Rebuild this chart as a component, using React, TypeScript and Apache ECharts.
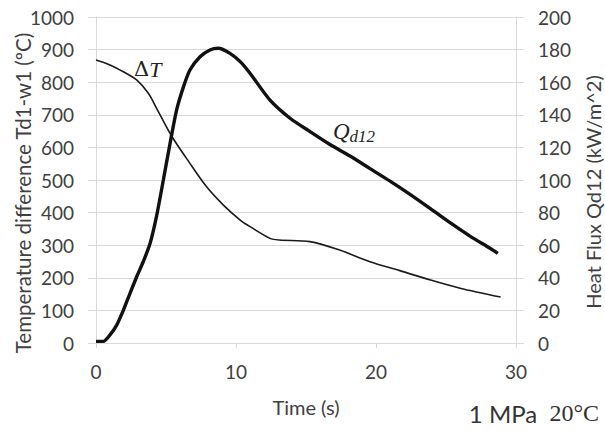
import React, { useEffect, useRef } from "react";
import * as echarts from "echarts";

const dtTime = [0, 1, 1.95, 2.9, 3.74, 4.33, 5.4, 6.71, 7.9, 9.1, 10.3, 11.0, 12.43, 13.1, 15.29, 17.4, 19.57, 21.7, 23.9, 26, 28.9];
const dtValue = [868, 853, 832, 807, 766, 720, 635, 551, 479, 423, 377, 357, 321, 316, 311, 285, 249, 222, 193, 168, 141];

const qTime = [0, 0.52, 1.0, 1.48, 1.95, 2.43, 2.9, 3.38, 3.86, 4.33, 4.81, 5.29, 5.76, 6.24, 6.71, 7.43, 8.14, 8.74, 9.57, 10.3, 11.0, 12.43, 13.86, 15.29, 16.71, 18.14, 19.57, 21, 22.43, 23.86, 25.29, 26.71, 28.14, 28.7];
const qValue = [1, 1, 5, 11, 20, 30.5, 40.5, 50, 61, 78, 100, 122.5, 143, 157, 167.5, 175.6, 179.8, 180.8, 177.7, 172.6, 165.5, 149, 137.9, 129.7, 121.8, 114.7, 107, 99.3, 91.2, 82.6, 73.8, 65.6, 58.1, 55];

const leftTicks = { min: 0, max: 1000, interval: 100 };
const rightTicks = { min: 0, max: 200, interval: 20 };
const xTicks = { min: 0, max: 30, interval: 10 };

const FONT = "Lato, 'Open Sans', sans-serif";
const TXT = "#404040";
const GRID = "#d9d9d9";

export default function App() {
  const ref = useRef<HTMLDivElement>(null);
  useEffect(() => {
    document.body.style.margin = "0";
    if (!ref.current) return;
    const chart = echarts.init(ref.current, null, { renderer: "svg" });
    chart.setOption({
      animation: false,
      backgroundColor: "#ffffff",
      grid: { left: 96, right: 89, top: 17, bottom: 88 },
      xAxis: {
        type: "value",
        ...xTicks,
        axisLine: { show: true, lineStyle: { color: GRID, width: 1 } },
        axisTick: { show: true, length: 5, lineStyle: { color: GRID } },
        splitLine: { show: false },
        axisLabel: { color: TXT, fontSize: 19, fontFamily: FONT, margin: 19, formatter: (v: number) => String(v) },
      },
      yAxis: [
        {
          type: "value",
          ...leftTicks,
          position: "left",
          axisLine: { show: true, lineStyle: { color: GRID, width: 1 } },
          axisTick: { show: true, length: 8, lineStyle: { color: GRID } },
          splitLine: { show: true, lineStyle: { color: GRID, width: 1 } },
          axisLabel: { color: TXT, fontSize: 19, fontFamily: FONT, margin: 22, formatter: (v: number) => String(v) },
        },
        {
          type: "value",
          ...rightTicks,
          position: "right",
          axisLine: { show: true, lineStyle: { color: GRID, width: 1 } },
          axisTick: { show: true, length: 8, lineStyle: { color: GRID } },
          splitLine: { show: false },
          axisLabel: { color: TXT, fontSize: 19, fontFamily: FONT, margin: 22, formatter: (v: number) => String(v) },
        },
      ],
      series: [
        {
          type: "line",
          yAxisIndex: 0,
          data: dtTime.map((t, i) => [t, dtValue[i]]),
          showSymbol: false,
          smooth: 0.3,
          lineStyle: { color: "#1a1a1a", width: 1.6 },
        },
        {
          type: "line",
          yAxisIndex: 1,
          data: qTime.map((t, i) => [t, qValue[i]]),
          showSymbol: false,
          smooth: 0.25,
          lineStyle: { color: "#111111", width: 3.4 },
        },
      ],
      graphic: [
        {
          type: "text",
          x: 23,
          y: 193,
          rotation: Math.PI / 2,
          style: {
            text: "Temperature difference Td1-w1 (ºC)",
            fill: TXT,
            font: `20.5px ${FONT}`,
            align: "center",
            verticalAlign: "middle",
          },
        },
        {
          type: "text",
          x: 593,
          y: 192,
          rotation: Math.PI / 2,
          style: {
            text: "Heat Flux Qd12 (kW/m^2)",
            fill: TXT,
            font: `20px ${FONT}`,
            align: "center",
            verticalAlign: "middle",
          },
        },
        {
          type: "text",
          x: 306,
          y: 407,
          style: {
            text: "Time (s)",
            fill: TXT,
            font: `20px ${FONT}`,
            align: "center",
            verticalAlign: "middle",
          },
        },
        {
          type: "text",
          x: 134,
          y: 69,
          style: {
            text: "{d|Δ}{t|T}",
            align: "left",
            verticalAlign: "middle",
            rich: {
              d: { font: `21px 'DejaVu Serif', 'Liberation Serif', serif`, fill: "#222" },
              t: { font: `italic 22px 'Liberation Serif', serif`, fill: "#222" },
            },
          },
        },
        {
          type: "text",
          x: 333,
          y: 131,
          style: {
            text: "{q|Q}{s|d12}",
            align: "left",
            verticalAlign: "middle",
            rich: {
              q: { font: `italic 23px 'Liberation Serif', serif`, fill: "#222", verticalAlign: "middle" },
              s: { font: `italic 17px 'Liberation Serif', serif`, fill: "#222", padding: [10, 0, 0, 0], verticalAlign: "bottom" },
            },
          },
        },
        {
          type: "text",
          x: 599,
          y: 413,
          style: {
            text: "{a|1 MPa  }{b|20°C}",
            align: "right",
            verticalAlign: "middle",
            rich: {
              a: { font: `24px ${FONT}`, fill: "#333" },
              b: { font: `24px 'Liberation Serif', serif`, fill: "#333" },
            },
          },
        },
      ],
    });
    return () => chart.dispose();
  }, []);
  return <div ref={ref} style={{ width: 605, height: 431 }} />;
}
